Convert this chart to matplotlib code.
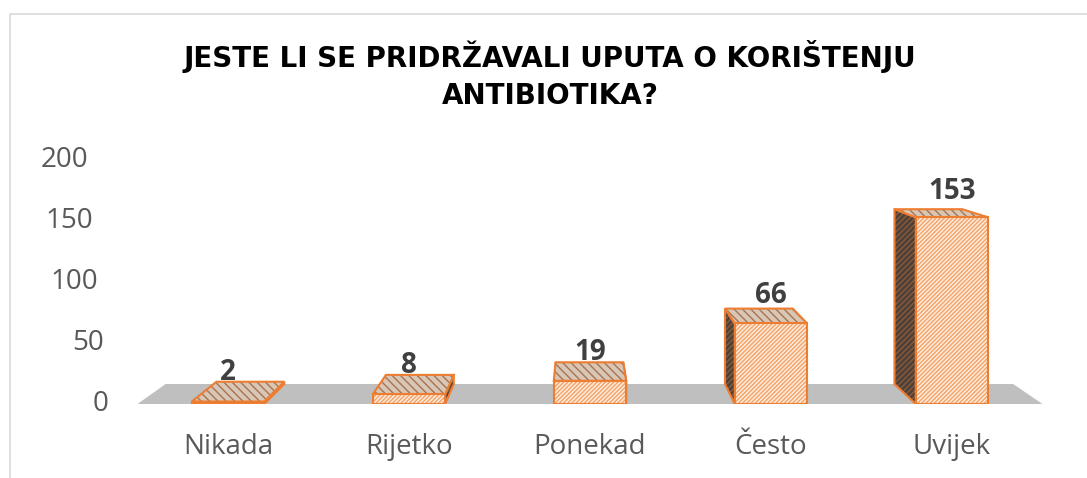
import matplotlib.pyplot as plt
from matplotlib.patches import Polygon, Rectangle

# data
categories = ['Nikada', 'Rijetko', 'Ponekad', 'Često', 'Uvijek']
counts = [2, 8, 19, 66, 153]
yticks = [0, 50, 100, 150, 200]
title = 'JESTE LI SE PRIDRŽAVALI UPUTA O KORIŠTENJU\nANTIBIOTIKA?'

# fake 3D: back points move toward a vanishing point (data units)
vp_x, vp_y = 1.945, 258.0
k = 0.0635
bar_w = 0.4


def back(x, y):
    return (x + k * (vp_x - x), y + k * (vp_y - y))


plt.rcParams['hatch.linewidth'] = 1.0

fig = plt.figure(figsize=(10.87, 4.78), dpi=100)
ax = fig.add_axes([137.5 / 1087, 74 / 478, 905 / 1087, 244 / 478])
ax.set_xlim(-0.5, 4.5)
ax.set_ylim(0, 200)
ax.axis('off')

# chart border
fig.patches.append(Rectangle((10 / 1087, -0.1), 1.2, (478 - 14) / 478 + 0.1,
                             transform=fig.transFigure, fill=False,
                             edgecolor='#D9D9D9', lw=1.2))

# floor
fl = [(-0.5, 0), (4.5, 0), back(4.5, 0), back(-0.5, 0)]
ax.add_patch(Polygon(fl, closed=True, facecolor='#BFBFBF', edgecolor='none', zorder=1))

x = list(range(len(categories)))
for i, v in zip(x, counts):
    x0, x1 = i - bar_w / 2, i + bar_w / 2
    # side face
    if x0 > vp_x:
        side = [(x0, 0), (x0, v), back(x0, v), back(x0, 0)]
    else:
        side = [(x1, 0), (x1, v), back(x1, v), back(x1, 0)]
    ax.add_patch(Polygon(side, facecolor='#4d4039', edgecolor='#8a5a38',
                         hatch='//////', lw=0, zorder=2))
    ax.add_patch(Polygon(side, fill=False, edgecolor='#ED7D31', lw=1.5, zorder=2.1))
    # top face
    top = [(x0, v), (x1, v), back(x1, v), back(x0, v)]
    ax.add_patch(Polygon(top, facecolor='#d8c6b6', edgecolor='#a8754f',
                         hatch='\\\\\\\\', lw=0, zorder=3))
    ax.add_patch(Polygon(top, fill=False, edgecolor='#ED7D31', lw=1.5, zorder=3.1))

# front faces
ax.bar(x, counts, width=bar_w, color='#FDEBDD', edgecolor='#F5A266',
       hatch='////////', lw=0, zorder=4)
ax.bar(x, counts, width=bar_w, fill=False, edgecolor='#ED7D31', lw=1.5, zorder=4.1)

# value labels
for i, v in zip(x, counts):
    bx, by = back(i, v)
    ax.text(i, by + 1 + 0.05 * v, str(v), ha='center', va='baseline', fontsize=20,
            fontweight='bold', family='Open Sans', color='#404040', zorder=5)

# y labels, staggered like the 3D wall
for t in yticks:
    right_px = 109 - 21 * t / 200
    ax.text((right_px - 137.5) / 905, t, str(t), transform=ax.get_yaxis_transform(),
            ha='right', va='center', fontsize=20, family='Open Sans', color='#595959')

# category labels
for i, c in zip(x, categories):
    ax.text(i, -43 / 244, c, transform=ax.get_xaxis_transform(), ha='center',
            va='center', fontsize=20, family='Open Sans', color='#595959')

fig.text(550 / 1087, 1 - 75 / 478, title, ha='center', va='center', fontsize=20,
         fontweight='bold', color='black', linespacing=1.45)

fig.savefig('out.png', dpi=100)
